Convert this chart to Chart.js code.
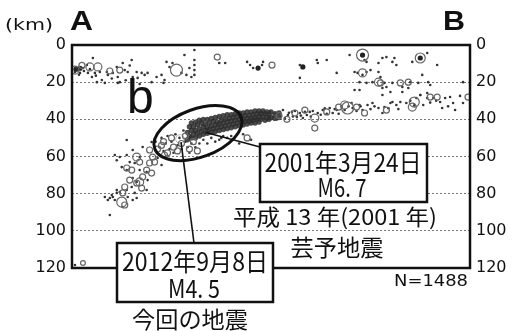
<!DOCTYPE html>
<html><head><meta charset="utf-8">
<script src="https://cdn.jsdelivr.net/npm/chart.js@4/dist/chart.umd.min.js"></script>
<style>html,body{margin:0;padding:0;background:#fff;}#wrap{width:513px;height:331px;}</style>
</head><body><div id="wrap"><canvas id="c" width="513" height="331"></canvas></div>
<script>
// Depth axis ticks (km)
const depthTicks = [0, 20, 40, 60, 80, 100, 120];
const distRange = [0, 200];

// small events [distance, depth]
const dotPts = [
[1.5,14.5],[3,13.5],[4,15],[5.5,12.4],[7.5,10.8],[8,15],[10,17.2],[10.5,7],[11.5,15],[14,14.5],[15,18.8],[17.5,14.5],[18,16.1],[20.5,15],[22.5,11.8],[23,17.2],[24,20],[25.5,9.7],[26.5,13.5],[28,14.5],[30,8.1],[30.5,17.2],[32.5,14.5],[33,17.7],[35,15],[36.5,16.1],[38,15],[40,20],[42.5,17.2],[45,16.1],[46.5,18.8],[47.5,9.1],[49,11.8],[50.5,9.7],[55,15],[56.5,5.4],[57.5,16.1],[59,12.4],[61.5,2.7],[61.5,8.1],[61.5,10.8],[61.5,13.5],[61.5,16.1],[60,17.2],[74,9.7],[77,9.7],[88,9.1],[89.5,10.8],[91,12.4],[95.5,10.8],[96,9.1],[114.5,10.8],[114.5,17.7],[123,8.1],[123.5,9.7],[128,8.1],[133,15],[139.5,5.4],[147,8.1],[148,9.1],[154,9.7],[156,7],[158,6.5],[161,9.1],[162,7],[163,10.8],[171,9.1],[178.5,4.3],[183.5,10.8],[142,14.5],[143.5,15],[146,16.1],[148,14.5],[150,13.5],[154,14.5],[155,17.2],[176,16.1],[144.5,20],[148,20.4],[151,20],[157,20.4],[161,20.4],[166,22.6],[170,20],[174,20.4],[179,20],[180,21.5],[196.5,20],[142,24.2],[144.5,24.2],[156,23.1],[158,22.6],[160,25.3],[166,25.3],[169,23.1],[175,26.9],[178.5,25.8],[156,26.9],[12.5,20],[16.5,20.4],[23,20.4],[34,21],[46,20.4],[2,12],[3.5,16],[6,14],[9,13],[12,16.5],[20,18],[27,19],[29,11],
[96,37.7],[99.5,36],[101,38.8],[104.5,36.6],[106,35],[108.5,37.7],[110.5,36],[113,38.8],[114.5,36.6],[116,39.3],[118,37.7],[119.5,36],[123.5,36.6],[126,35],[129.5,33.9],[131,36.6],[133,35],[135.5,33.4],[140.5,31.2],[141,33.9],[144.5,32.3],[146,35],[148.5,32.3],[151,31.2],[154,33.9],[156,36.6],[157,33.4],[160,31.2],[161,30.7],[163,32.3],[165,30.7],[168,31.2],[173,28.5],[175,26.9],[176.5,32.3],[178.5,28.5],[181.5,28.5],[185,30.7],[187.5,28.5],[190,28],[191.5,31.2],[186,33.9],[192.5,35],[196.5,31.2],[195,27.4],
[98,40.5],[102,37],[103,40],[105,38.5],[107,39.5],[109,36.5],[111,38.5],[112,35.5],[115,38],[117,36],[120,38.5],[121,35.5],[125,37.5],[127,34],[128,37],[132,34.5],[134,37],[137,35],[139,33],[143,35.5],[145,33],[150,34.5],[152,33],[159,34],[164,34.5],[170,30],[172,32.5],[180,31],[183,30],[189,33],[93,41],[95,39.5],
[27.5,51.1],[30.5,56.5],[35.5,54.9],[40,52.2],[21.5,59.2],[24,60.3],[27.5,59.2],[29,63],[22.5,62],[25,65.7],[34,67.3],[37.5,68.4],[32.5,73.7],[22.5,78],[20,80.7],[16.5,81.8],[18,83.4],[21.5,83.4],[25.5,87.2],[28,81.8],[31.5,79.6],[43,60.8],[45,64.6],[38,72.7],[30.5,71.6],[30,76.4],[37.5,78],[27.5,78],[24,79.1],[22.5,79.6],[30.5,83.4],[32.5,82.3],[20.5,81.8],[19,82.3],[19,91.5],[34,60.3],[31.5,63.5],[27.5,67.3],[1.5,118.4],
[42,52],[44,55],[45,50],[46,57],[47,53],[48,49],[49,56],[50,52],[51,58],[52,48],[53,54],[54,50],[55,56],[56,46],[57,52],[58,55],[59,58],[60,53],[62,55],[64,53],[66,51],[68,53],[70,50],[72,52],[74,51],[76,49],[78,50],[75,50],[80,49],[86,48],[90,51],[84,53]
];

// larger events drawn as rings [distance, depth, magnitude class]
const ringPts = [
[13,11.8,3],[9,11.8,3],[1.5,13.5,3],[24,13.5,2.5],[52.5,13.5,4],[73,6.5,2.5],[100.5,10.8,2.5],[146,5.4,4],[146,15,3],[154,20,3],[155,20.4,2.5],[165,20.4,2.5],[175,7,3.5],[169,20,2.5],[5,11,2.5],[19,14,2.5],
[122,39.3,3],[122,44.7,2.5],[128,36,2.5],[137,32.3,3],[138.5,33.9,4],[143,33.4,2.5],[147,36.6,2.5],[158,35,2.5],[171,33.4,3],[172,30.7,3.5],[180,28,2.5],[183.5,28,2.5],[199,28,2.5],[112,36.6,2.5],[117,35,2.5],[134,33.4,2.5],[104,38,2.5],[108,40,2.5],
[41.5,63,2.5],[46.5,59.2,2.5],[39,63.5,2.5],[37.5,67.3,2.5],[40,68.9,2.5],[35.5,71,2.5],[34,73.7,3],[32.5,74.3,2.5],[35,77,2.5],[25.5,79.6,2.5],[25,84.5,3.5],[26.5,86.1,2.5],[32.5,60.3,3],[34,63,2.5],[39,56.5,2.5],[40.5,60.3,2.5],[27.5,66.2,2.5],[30,67.3,2.5],[29,72.7,2.5],[26.5,76.4,2.5],[5.5,117.3,2.2],
[43,56,2.5],[46,52,2.5],[48,58,2.5],[50,50,2.5],[53,57,2.5],[55,53,2.5],[57,49,2.5],[59,56,2.5],[61,52,2.5],[63,57,2.5],[45,54,2.5],[51,55,2.5],[88,50,2.5]
];

// dark filled events
const blobPts = [[93.5,12.4],[116,11.8],[146,5.4],[175,7],[2,13],[4,12.5]];

// dense slab cluster
const densePts = [
[58,47],[58,51],[59,44],[59,49],[60,46],[60,50],[60,42],[61,44],[61,48],[62,41.5],[62,46],[62,50],[63,43],[63,47.5],[64,45],[64,40.5],[64,49],[65,42],[65,46.5],[66,44],[66,48],[66,40],[67,42.5],[67,46],[68,40],[68,44.5],[68,47.5],[69,42],[69,45.5],[70,39.5],[70,43.5],[70,47],[71,41],[71,45],[72,43],[72,39],[72,46.5],[73,41.5],[73,44.5],[74,38.5],[74,42.5],[74,46],[75,40.5],[75,44],[76,42],[76,38],[76,45.5],[77,40],[77,43.5],[78,37.5],[78,41.5],[78,45],[79,39.5],[79,43],[80,41],[80,37.5],[80,44.5],[81,39],[81,42.5],[82,37],[82,40.5],[82,44],[83,38.5],[83,42],[84,40],[84,36.5],[84,43.5],[85,38.5],[85,41.5],[86,36.5],[86,40],[86,43],[87,38],[87,41],[88,39.5],[88,36],[88,42.5],[89,38],[89,41],[90,36],[90,39.5],[90,42],[91,37.5],[91,40.5],[92,39],[92,35.5],[92,42],[93,37],[93,40],[94,35.5],[94,38.5],[94,41.5],[95,37],[95,40],[96,38.5],[96,35.5],[97,37],[97,40.5],[98,36],[98,39],[99,37.5],[99,40],[100,36],[100,39],[102,37],[102,39.5],[104,36.5],[104,39]
];

// featured earthquakes
const mainU = [64.3, 54.3];
const mainD = [46.3, 50.6];
const mainMag = [6.7, 4.5];
const eventCount = 1488;

const xy = a => a.map(p => ({x: p[0], y: p[1]}));

function fitText(ctx, text, cx, cy, font, width, align) {
  ctx.save();
  ctx.font = font;
  const w = ctx.measureText(text).width;
  const s = width / w;
  ctx.translate(cx, cy);
  ctx.scale(s, 1);
  ctx.textAlign = align || 'center';
  ctx.textBaseline = 'middle';
  ctx.fillStyle = '#111';
  ctx.fillText(text, 0, 0);
  ctx.restore();
}

const annot = {
  id: 'annot',
  afterDatasetsDraw(chart) {
    const ctx = chart.ctx, a = chart.chartArea;
    const xs = chart.scales.x, ys = chart.scales.y;
    ctx.save();
    // frame
    ctx.strokeStyle = '#111'; ctx.lineWidth = 2.5;
    ctx.strokeRect(a.left, a.top, a.right - a.left, a.bottom - a.top);
    // ellipse around the two events
    const ex = xs.getPixelForValue(63.3), ey = ys.getPixelForValue(47.4);
    ctx.beginPath();
    ctx.ellipse(ex, ey, 46, 24, -20 * Math.PI / 180, 0, Math.PI * 2);
    ctx.lineWidth = 3; ctx.stroke();
    // leader lines
    const p1x = xs.getPixelForValue(mainU[0]), p1y = ys.getPixelForValue(mainD[0]);
    const p2x = xs.getPixelForValue(mainU[1]), p2y = ys.getPixelForValue(mainD[1]);
    ctx.lineWidth = 1.6;
    ctx.beginPath(); ctx.moveTo(p1x + 6, p1y + 1.5); ctx.lineTo(260, 147); ctx.stroke();
    ctx.beginPath(); ctx.moveTo(p2x + 1, p2y + 3); ctx.lineTo(194, 243); ctx.stroke();
    // boxes
    ctx.fillStyle = '#fff'; ctx.lineWidth = 2.5; ctx.strokeStyle = '#111';
    ctx.fillRect(260, 144, 167, 58); ctx.strokeRect(260, 144, 167, 58);
    ctx.fillRect(117, 243, 156, 59); ctx.strokeRect(117, 243, 156, 59);
    ctx.restore();
    const cjk = '"Noto Sans CJK JP", sans-serif';
    fitText(ctx, '2001年3月24日', 343, 162, '25px ' + cjk, 157);
    fitText(ctx, 'M6. 7', 342, 187, '25px ' + cjk, 49);
    fitText(ctx, '平成 13 年(2001 年)', 335, 217, '22px ' + cjk, 204);
    fitText(ctx, '芸予地震', 337, 247, '23px ' + cjk, 93);
    fitText(ctx, '2012年9月8日', 195, 261, '25px ' + cjk, 146);
    fitText(ctx, 'M4. 5', 194, 288, '25px ' + cjk, 52);
    fitText(ctx, '今回の地震', 190, 319, '23px ' + cjk, 116);
    fitText(ctx, 'N=' + eventCount, 468, 282, '16px "DejaVu Sans"', 74, 'right');
    fitText(ctx, '(km)', 29, 26, '16px "DejaVu Sans"', 48);
    fitText(ctx, 'A', 81.5, 23, 'bold 27px "Liberation Sans"', 23);
    fitText(ctx, 'B', 454, 23, 'bold 27px "Liberation Sans"', 22);
    ctx.save();
    ctx.font = '48px "Liberation Sans"'; ctx.fillStyle = '#111';
    ctx.textAlign = 'left'; ctx.textBaseline = 'alphabetic';
    ctx.fillText('b', 127, 113);
    ctx.restore();
  }
};

const gridColor = c => (c.tick.value === 0 || c.tick.value === 120) ? 'rgba(0,0,0,0)' : '#777';
const tickFont = {family: 'DejaVu Sans', size: 16};

new Chart(document.getElementById('c'), {
  type: 'scatter',
  data: {
    datasets: [
      {data: xy(ringPts), pointRadius: ringPts.map(p => 2 * p[2] - 2), backgroundColor: 'rgba(255,255,255,0)', borderColor: '#666', borderWidth: 1.2},
      {data: xy(dotPts), pointRadius: 1.3, backgroundColor: '#333', borderWidth: 0},
      {data: xy(densePts), pointRadius: 2.7, backgroundColor: 'rgba(45,45,45,0.85)', borderWidth: 0},
      {data: xy(blobPts), pointRadius: 2.6, backgroundColor: '#222', borderWidth: 0},
      {data: mainU.map((u, i) => ({x: u, y: mainD[i]})), pointRadius: mainMag.map(m => 1.1 + 0.73 * m), backgroundColor: '#fff', borderColor: '#bbb', borderWidth: 1}
    ]
  },
  options: {
    responsive: false, animation: false, devicePixelRatio: 1,
    layout: {padding: {top: 45, bottom: 63, left: 0, right: 0}},
    plugins: {legend: {display: false}, tooltip: {enabled: false}},
    scales: {
      x: {type: 'linear', min: distRange[0], max: distRange[1], display: false},
      y: {
        type: 'linear', position: 'left', reverse: true, min: 0, max: 120,
        afterBuildTicks: s => { s.ticks = depthTicks.map(v => ({value: v})); },
        afterFit: s => { s.width = 72; },
        ticks: {font: tickFont, color: '#111', padding: 6},
        grid: {color: gridColor, lineWidth: 1, drawTicks: false},
        border: {display: false, dash: [2, 2]}
      },
      y2: {
        type: 'linear', position: 'right', reverse: true, min: 0, max: 120,
        afterBuildTicks: s => { s.ticks = depthTicks.map(v => ({value: v})); },
        afterFit: s => { s.width = 43; },
        ticks: {font: tickFont, color: '#111', padding: 6},
        grid: {display: false, drawTicks: false},
        border: {display: false}
      }
    }
  },
  plugins: [annot]
});
</script></body></html>
